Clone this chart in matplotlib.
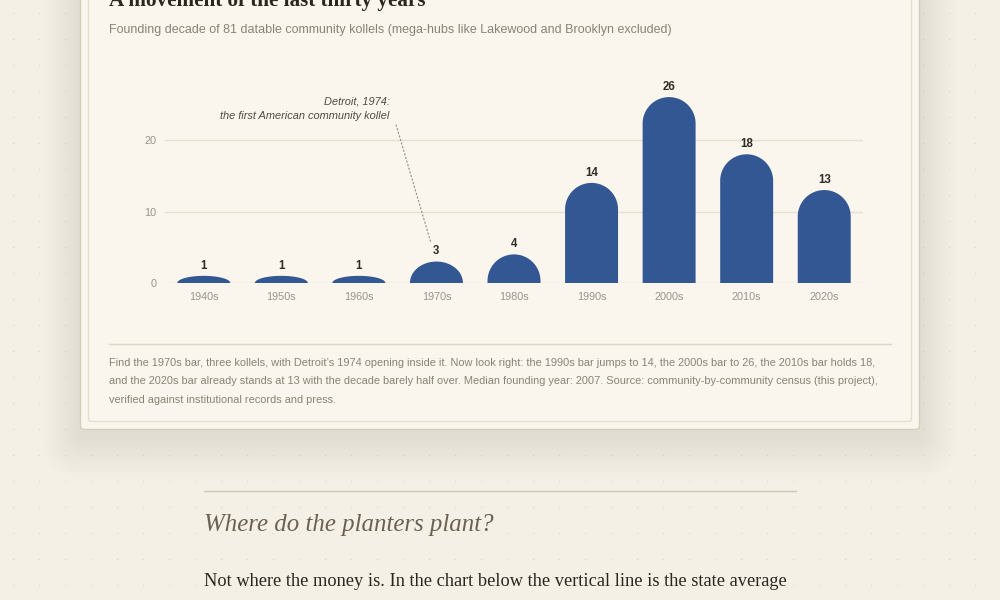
import numpy as np
import matplotlib
matplotlib.use("Agg")
import matplotlib.pyplot as plt
from matplotlib.patches import FancyBboxPatch, PathPatch
from matplotlib.path import Path

# data
decades = ["1940s", "1950s", "1960s", "1970s", "1980s", "1990s", "2000s", "2010s", "2020s"]
counts = [1, 1, 1, 3, 4, 14, 26, 18, 13]
yticks = [0, 10, 20]

title = "A movement of the last thirty years"
subtitle = "Founding decade of 81 datable community kollels (mega-hubs like Lakewood and Brooklyn excluded)"
note_lines = ["Detroit, 1974:", "the first American community kollel"]
caption = [
    "Find the 1970s bar, three kollels, with Detroit\u2019s 1974 opening inside it. Now look right: the 1990s bar jumps to 14, the 2000s bar to 26, the 2010s bar holds 18,",
    "and the 2020s bar already stands at 13 with the decade barely half over. Median founding year: 2007. Source: community-by-community census (this project),",
    "verified against institutional records and press.",
]
next_head = "Where do the planters plant?"
next_body = "Not where the money is. In the chart below the vertical line is the state average"

PAGE = "#f4f0e5"
CARD = "#faf6ee"
BAR = "#325793"
INK = "#2b2620"
MUTED = "#8a8375"
TICK = "#9a9488"
GRID = "#e7e0d1"

W, H = 1000, 600
fig = plt.figure(figsize=(10, 6), dpi=100)
fig.patch.set_facecolor(PAGE)

# page layer in pixel coords (y down)
bg = fig.add_axes([0, 0, 1, 1])
bg.set_xlim(0, W)
bg.set_ylim(H, 0)
bg.axis("off")

# dotted page pattern
gx, gy = np.meshgrid(np.arange(13, W, 26), np.arange(13, H, 26))
bg.scatter(gx.ravel(), gy.ravel(), s=1.2, color="#e3dccd", lw=0, zorder=0)

# soft card shadow
for g in range(2, 40, 2):
    bg.add_patch(FancyBboxPatch((80 - g, -40), 839 + 2 * g, 469 + 8 + g * 1.1,
                                boxstyle="round,pad=0,rounding_size=%d" % (4 + g),
                                fc="#8a7a55", ec="none", alpha=0.005, zorder=1))
# card
bg.add_patch(FancyBboxPatch((80.5, -40), 839, 469.5, boxstyle="round,pad=0,rounding_size=4",
                            fc=CARD, ec="#d6cebd", lw=1.0, zorder=2))
bg.add_patch(FancyBboxPatch((88.5, -40), 823, 461.5, boxstyle="round,pad=0,rounding_size=3",
                            fc=CARD, ec="#e6dfcf", lw=1.0, zorder=3))

bg.text(109, 6, title, family="Liberation Serif", weight="bold", fontsize=15.2,
        color=INK, va="baseline", zorder=5)
bg.text(109, 33, subtitle, family="Liberation Sans", fontsize=8.98,
        color=MUTED, va="baseline", zorder=5)

bg.plot([109, 891], [343.5, 343.5], color="#ddd6c6", lw=1, zorder=5)
for k, line in enumerate(caption):
    bg.text(109, 366 + k * 18.5, line, family="Liberation Sans", fontsize=7.88,
            color=MUTED, va="baseline", zorder=5)

bg.plot([204, 796], [490.5, 490.5], color="#cdc7b6", lw=1, zorder=5)
bg.text(204, 531, next_head, family="Liberation Serif", style="italic", fontsize=17.9,
        color="#6b6152", va="baseline", zorder=5)
bg.text(204, 586, next_body, family="Liberation Serif", fontsize=13.25,
        color=INK, va="baseline", zorder=5)

# bar chart axes
x0, x1, y_zero, ppu = 165, 863, 283, 7.15
ymax = 28
top_px = y_zero - ymax * ppu
ax = fig.add_axes([x0 / W, (H - y_zero) / H, (x1 - x0) / W, (y_zero - top_px) / H])
ax.set_facecolor("none")
ax.set_xlim(-0.5, len(decades) - 0.5)
ax.set_ylim(0, ymax)
for s in ax.spines.values():
    s.set_visible(False)
ax.set_yticks(yticks)
ax.set_xticks(range(len(decades)))
ax.set_xticklabels(decades)
ax.tick_params(length=0, labelsize=7.8, labelcolor=TICK, pad=6.5)
ax.tick_params(axis="y", pad=6)
for lab in ax.get_xticklabels() + ax.get_yticklabels():
    lab.set_family("Liberation Sans")
ax.grid(axis="y", color=GRID, lw=1)
ax.set_axisbelow(True)

bw = 0.683
xpx = (x1 - x0) / len(decades)
rx = bw / 2
t = np.linspace(np.pi, 0, 60)
for i, v in enumerate(counts):
    h_px = v * ppu
    ry = min(rx * xpx, h_px) / ppu
    base = v - ry
    verts = [(i - rx, 0), (i - rx, base)]
    verts += list(zip(i + rx * np.cos(t), base + ry * np.sin(t)))
    verts += [(i + rx, 0), (i - rx, 0)]
    codes = [Path.MOVETO] + [Path.LINETO] * (len(verts) - 2) + [Path.CLOSEPOLY]
    ax.add_patch(PathPatch(Path(verts, codes), fc=BAR, ec="none", zorder=3))
    ax.annotate(str(v), (i, v), xytext=(0, 3.0), textcoords="offset points",
                ha="center", va="bottom", fontsize=8.3, weight="bold",
                color="#2f2b26", family="Liberation Sans")

# Detroit note
k = decades.index("1970s")
ax.annotate("", xy=(k, counts[k]), xytext=(2.48, 22.1),
            arrowprops=dict(arrowstyle="-", linestyle=(0, (1, 2)), color="#9a958a",
                            lw=0.9, shrinkA=0, shrinkB=13.5))
ax.text(2.395, 25.4, note_lines[0], ha="right", va="center", style="italic",
        fontsize=7.9, color="#4e4a44", family="Liberation Sans")
ax.text(2.395, 23.3, note_lines[1], ha="right", va="center", style="italic",
        fontsize=7.9, color="#4e4a44", family="Liberation Sans")

fig.savefig("out.png", dpi=100, facecolor=PAGE)
